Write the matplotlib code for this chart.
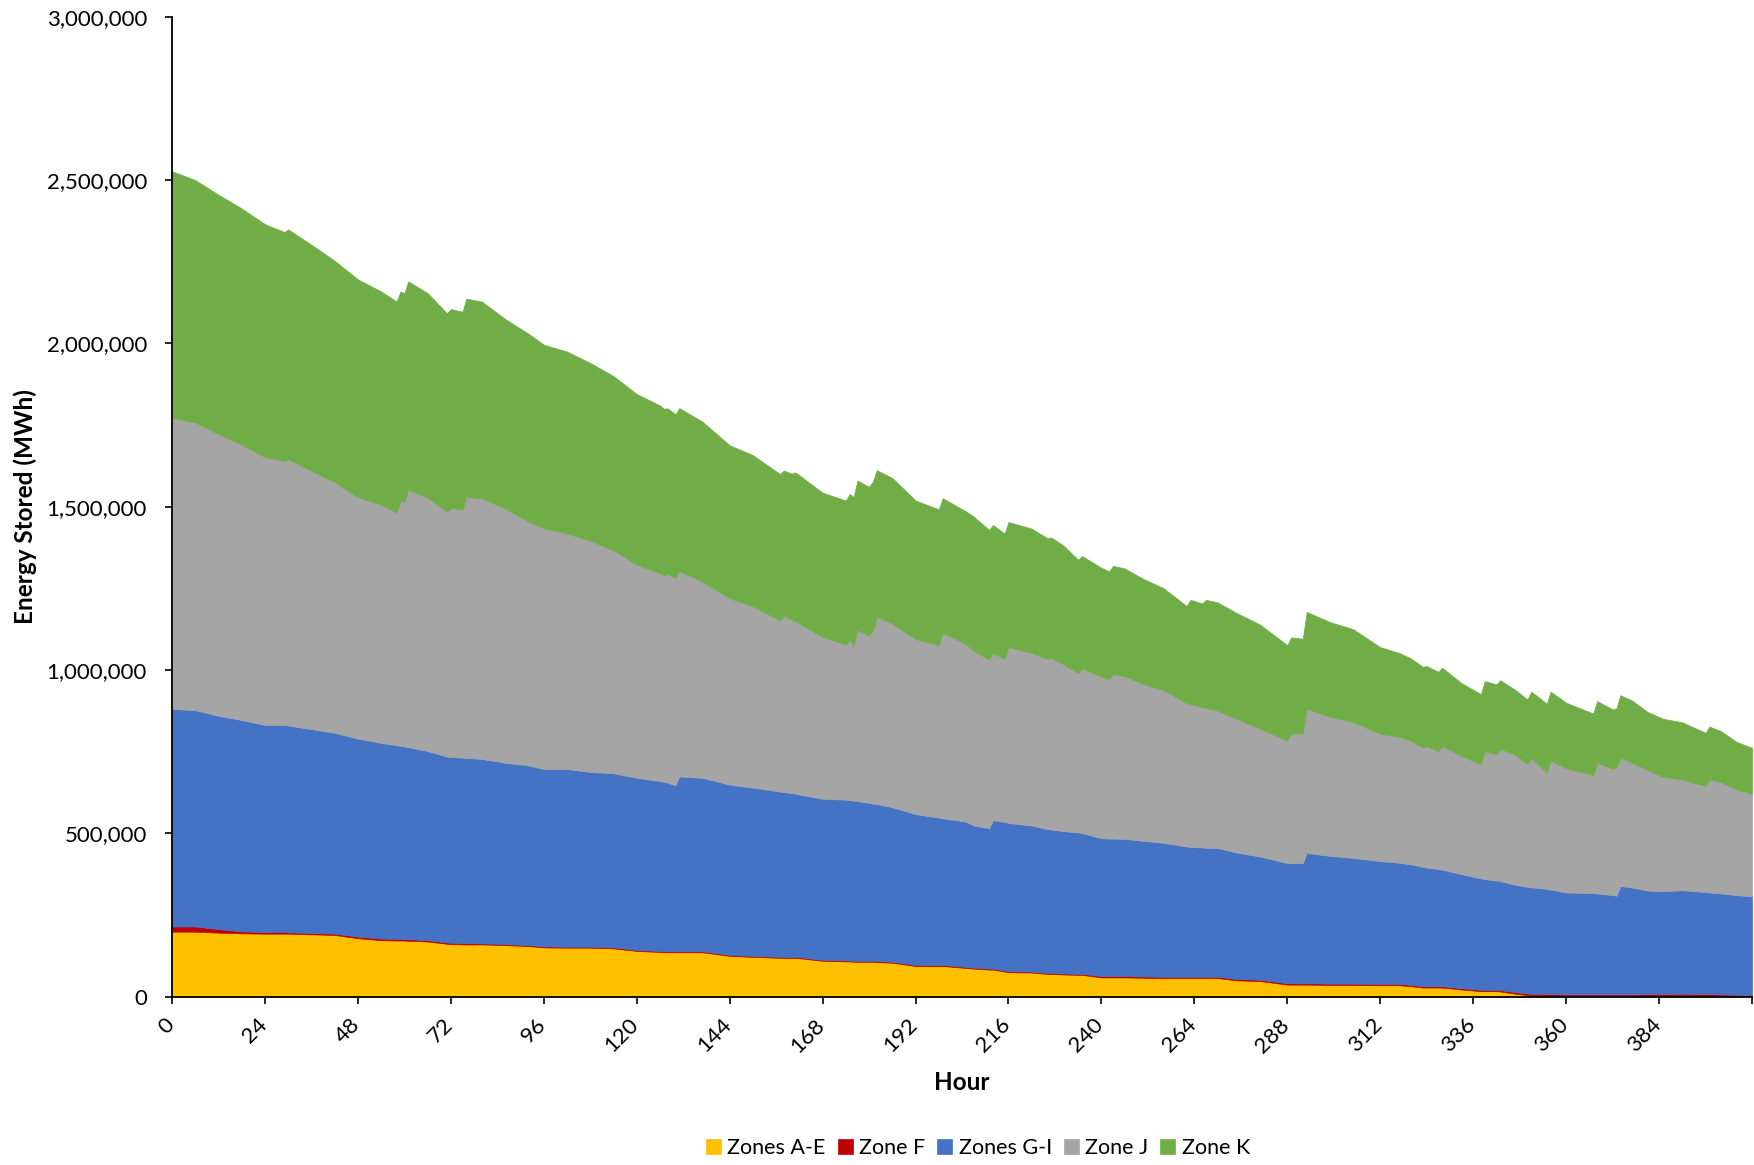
import matplotlib
matplotlib.use("Agg")
import matplotlib.pyplot as plt
import matplotlib.transforms as mtransforms
from matplotlib.ticker import FuncFormatter
import numpy as np

plt.rcParams['font.family'] = ['Lato', 'DejaVu Sans']

# ---- data (energy stored, thousands of MWh) ----
hours = [0, 6, 12, 18, 24, 29, 30, 36, 42, 48, 54, 58, 59, 60, 61, 66, 71, 72, 75, 76,
         80, 86, 92, 96, 102, 108, 114, 120, 126, 127, 128, 130, 131, 137, 144, 150, 157, 158, 160, 161,
         168, 174, 175, 176, 177, 180, 181, 182, 186, 192, 198, 199, 205, 207, 211, 212, 215, 216, 222, 226,
         227, 230, 234, 235, 240, 242, 243, 246, 251, 256, 262, 263, 266, 267, 270, 275, 281, 288, 289, 292,
         293, 299, 305, 312, 317, 320, 323, 324, 327, 328, 333, 338, 339, 342, 343, 347, 350, 351, 355, 356,
         360, 367, 368, 372, 373, 374, 377, 381, 385, 390, 396, 397, 400, 404, 408]

zones_a_e = [199, 199, 196, 194, 193, 193, 193, 191, 189, 179, 173, 172, 172, 172, 171, 169, 162, 161, 160, 160,
             160, 158, 155, 151, 150, 150, 148, 140, 137, 136, 136, 136, 136, 136, 125, 122, 119, 119, 119, 119,
             110, 108, 108, 107, 107, 107, 107, 106, 104, 94, 94, 94, 88, 86, 83, 83, 77, 75, 74, 70,
             70, 68, 67, 67, 59, 59, 59, 59, 58, 57, 57, 57, 57, 57, 57, 50, 48, 37, 37, 37,
             37, 36, 36, 35, 35, 32, 28, 28, 28, 28, 22, 17, 17, 17, 16, 9, 5, 4, 3, 3,
             3, 3, 3, 3, 3, 3, 3, 3, 3, 3, 3, 3, 2, 2, 2]

zone_f = [16, 16, 11, 6, 5, 5, 4, 4, 4, 5, 5, 5, 5, 4, 5, 4, 4, 4, 4, 4,
          3, 3, 3, 3, 3, 3, 3, 3, 3, 3, 3, 3, 3, 3, 3, 3, 3, 3, 3, 3,
          3, 3, 3, 3, 3, 3, 3, 3, 3, 3, 3, 3, 3, 3, 3, 3, 3, 3, 3, 3,
          3, 3, 3, 3, 4, 4, 4, 4, 4, 4, 4, 4, 4, 4, 4, 4, 4, 4, 4, 4,
          4, 4, 4, 4, 4, 4, 4, 4, 4, 4, 4, 4, 4, 4, 4, 5, 5, 5, 5, 5,
          4, 4, 4, 4, 4, 4, 4, 5, 5, 6, 5, 5, 5, 4, 3]

zones_g_i = [666, 662, 653, 647, 634, 634, 633, 624, 615, 606, 599, 593, 591, 590, 588, 579, 569, 569, 568, 567,
             565, 555, 550, 543, 544, 535, 533, 527, 520, 519, 516, 508, 535, 531, 521, 515, 506, 504, 501, 499,
             493, 492, 491, 490, 489, 483, 481, 481, 473, 462, 451, 449, 445, 435, 430, 454, 455, 454, 447, 440,
             439, 436, 433, 431, 422, 421, 421, 420, 415, 410, 399, 397, 396, 395, 394, 387, 377, 368, 368, 368,
             399, 391, 385, 376, 371, 369, 365, 363, 359, 357, 349, 341, 339, 335, 334, 328, 326, 326, 322, 320,
             312, 310, 309, 304, 302, 332, 327, 317, 315, 317, 312, 311, 309, 305, 302]

zone_j = [891, 881, 862, 843, 820, 808, 816, 791, 767, 739, 729, 712, 751, 748, 789, 775, 749, 763, 760, 800,
          797, 779, 747, 737, 721, 708, 682, 653, 636, 632, 639, 635, 629, 600, 571, 555, 524, 540, 532, 528,
          495, 475, 493, 474, 524, 513, 529, 574, 562, 536, 528, 567, 544, 535, 516, 512, 499, 538, 528, 521,
          526, 512, 488, 504, 495, 488, 504, 498, 479, 468, 438, 438, 429, 428, 421, 409, 391, 375, 397, 397,
          442, 426, 416, 390, 385, 378, 365, 371, 361, 378, 362, 349, 392, 386, 406, 397, 376, 395, 356, 395,
          380, 362, 400, 387, 392, 393, 382, 369, 350, 339, 325, 346, 341, 324, 314]

zone_k = [755, 742, 733, 723, 713, 701, 703, 692, 678, 667, 653, 646, 640, 640, 637, 627, 608, 608, 605, 606,
          603, 580, 575, 562, 557, 544, 534, 522, 514, 510, 507, 501, 499, 490, 468, 463, 448, 445, 446, 456,
          442, 441, 444, 456, 457, 455, 457, 448, 446, 424, 416, 413, 406, 411, 397, 392, 384, 383, 381, 370,
          368, 364, 347, 344, 333, 330, 331, 330, 322, 312, 298, 319, 318, 331, 331, 324, 319, 292, 294, 290,
          296, 290, 284, 265, 257, 252, 248, 246, 243, 240, 223, 215, 214, 214, 209, 199, 198, 204, 211, 211,
          201, 188, 189, 182, 182, 191, 191, 178, 178, 175, 163, 162, 156, 145, 141]

series_labels = ["Zones A-E", "Zone F", "Zones G-I", "Zone J", "Zone K"]
series_colors = ["#FFC000", "#C00000", "#4472C4", "#A5A5A5", "#70AD47"]

x_ticks = list(range(0, 409, 24))
x_tick_labels = [str(t) for t in x_ticks[:-1]] + [""]
y_ticks = [0, 500000, 1000000, 1500000, 2000000, 2500000, 3000000]

# ---- figure ----
W, H = 1754, 1165
fig = plt.figure(figsize=(W / 100, H / 100), dpi=100)
ax_left, ax_right, ax_top, ax_bottom = 172, 1752, 16.7, 996.7
ax = fig.add_axes([ax_left / W, 1 - ax_bottom / H, (ax_right - ax_left) / W, (ax_bottom - ax_top) / H])

series = [np.array(s) * 1000 for s in (zones_a_e, zone_f, zones_g_i, zone_j, zone_k)]
polys = ax.stackplot(hours, *series, colors=series_colors, labels=series_labels)
for p, c in zip(polys, series_colors):
    p.set_edgecolor(c)
    p.set_linewidth(0.5)

ax.set_xlim(0, 408)
ax.set_ylim(0, 3000000)
ax.set_xticks(x_ticks)
ax.set_xticklabels(x_tick_labels)
ax.set_yticks(y_ticks)
ax.yaxis.set_major_formatter(FuncFormatter(lambda v, p: f"{v:,.0f}"))

for side in ("top", "right"):
    ax.spines[side].set_visible(False)
for side in ("left", "bottom"):
    ax.spines[side].set_linewidth(1.3)
    ax.spines[side].set_color("black")
ax.tick_params(axis="both", direction="out", length=5, width=1.2, colors="black", labelsize=16)
ax.tick_params(axis="y", pad=13)
ax.tick_params(axis="x", pad=8)

offset = mtransforms.ScaledTranslation(6 / 100, 0, fig.dpi_scale_trans)
for lab in ax.get_xticklabels():
    lab.set_rotation(45)
    lab.set_ha("right")
    lab.set_va("top")
    lab.set_transform(lab.get_transform() + offset)

fig.text(25 / W, 1 - 507 / H, "Energy Stored (MWh)", rotation=90, ha="center", va="center",
         fontsize=17.5, fontweight="bold")
fig.text(962 / W, 1 - 1083 / H, "Hour", ha="center", va="center", fontsize=17.5, fontweight="bold")

handles, labels = ax.get_legend_handles_labels()
fig.legend(handles, labels, loc="center", bbox_to_anchor=(978 / W, 1 - 1148 / H), ncol=5,
           frameon=False, fontsize=15.5, handlelength=0.7, handleheight=0.7, handletextpad=0.3,
           columnspacing=0.55)

fig.savefig("out.png", dpi=100)
